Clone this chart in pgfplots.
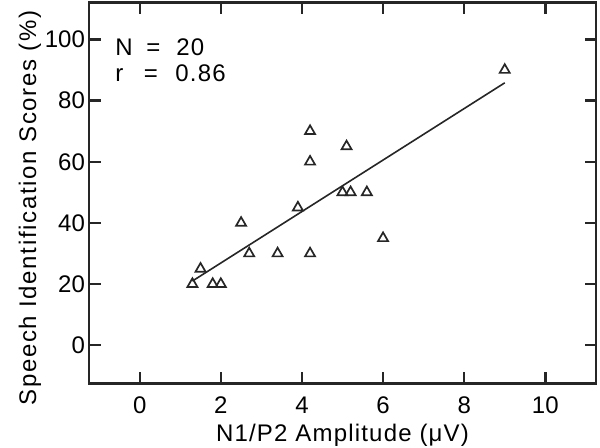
\documentclass[border=0pt]{standalone}
\usepackage{pgfplots}
\pgfplotsset{compat=1.18}
\usepackage{fontspec}
\setmainfont{Liberation Sans}
\newfontfamily\labelfont[LetterSpace=5]{Liberation Sans}
\newfontfamily\ylabelfont[LetterSpace=7]{Liberation Sans}
\begin{document}
\begin{tikzpicture}
\useasboundingbox (0,0) rectangle (300pt,224pt);
\begin{axis}[
  at={(44.5pt,32.25pt)}, anchor=south west,
  scale only axis, width=253.5pt, height=190.4pt,
  xmin=-1.25, xmax=11.25, ymin=-12.5, ymax=112,
  xtick={0,2,4,6,8,10}, ytick={0,20,40,60,80,100},
  tick align=inside,
  major tick length=5.75pt,
  axis line style={line width=1.2pt, black!85},
  major tick style={line width=1.2pt, black!85},
  /pgf/number format/assume math mode=true,
  font=\fontsize{12}{14}\selectfont,
  xlabel={\labelfont N1/P2 Amplitude (μV)},
  ylabel={\ylabelfont Speech Identification Scores (\%)},
  every axis x label/.style={at={(axis description cs:0.5,-0.153)},anchor=base},
  every axis y label/.style={at={(axis description cs:-0.1045,0.461)},rotate=90,anchor=base},
  xticklabel style={anchor=base,yshift=-15.25pt},
  yticklabel style={xshift=1.5pt},
]
\addplot[only marks, mark=triangle, mark size=2.9pt, mark options={line width=0.85pt, black!85}] coordinates {
(1.3,20) (1.5,25) (1.8,20) (2.0,20) (2.5,40) (2.7,30) (3.4,30) (3.9,45)
(4.2,30) (4.2,60) (4.2,70) (5.0,50) (5.2,50) (5.1,65) (5.6,50) (6.0,35) (9.0,90)
};
\addplot[no marks, line width=0.8pt, black!85] coordinates {(1.3,21) (9.0,85.8)};
\node[anchor=base west, inner sep=0pt] at (rel axis cs:0.0513,0.861) {\labelfont\makebox[15.5pt][l]{N}\makebox[15pt][l]{=}20};
\node[anchor=base west, inner sep=0pt] at (rel axis cs:0.0513,0.793) {\labelfont\makebox[14.2pt][l]{r}\makebox[15.8pt][l]{=}0.86};
\end{axis}
\end{tikzpicture}
\end{document}
